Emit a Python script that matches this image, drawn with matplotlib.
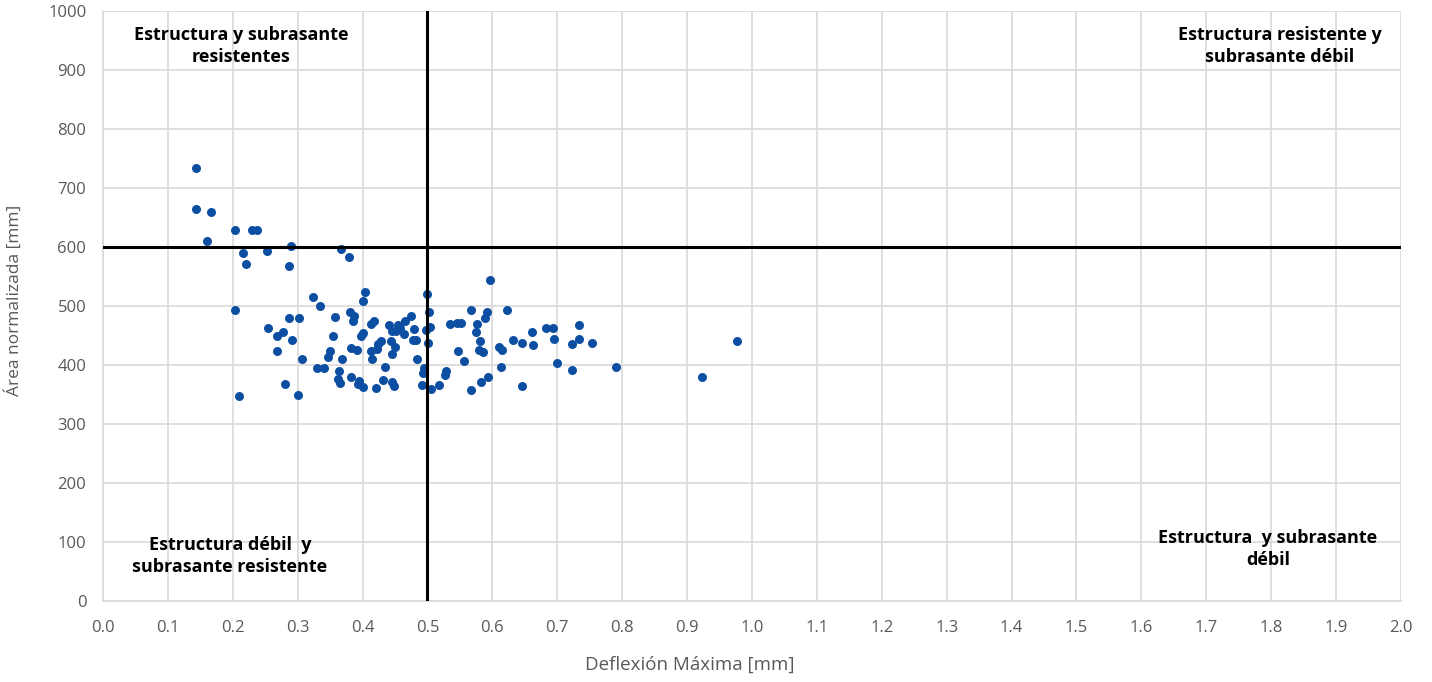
import matplotlib
matplotlib.use("Agg")
import matplotlib.pyplot as plt
import numpy as np

# Data
deflexion = [
    0.144, 0.144, 0.167, 0.160, 0.203, 0.230, 0.237, 0.216, 0.221, 0.252,
    0.289, 0.286, 0.367, 0.379, 0.203, 0.210, 0.301, 0.323, 0.334, 0.287,
    0.302, 0.357, 0.381, 0.255, 0.268, 0.278, 0.291, 0.268, 0.307, 0.354,
    0.350, 0.346, 0.368, 0.330, 0.341, 0.364, 0.362, 0.365, 0.280, 0.382,
    0.404, 0.401, 0.500, 0.502, 0.387, 0.385, 0.382, 0.391, 0.394, 0.393,
    0.401, 0.421, 0.432, 0.435, 0.446, 0.448, 0.413, 0.418, 0.397, 0.401,
    0.413, 0.414, 0.422, 0.424, 0.429, 0.441, 0.444, 0.446, 0.451, 0.454,
    0.450, 0.446, 0.458, 0.464, 0.466, 0.474, 0.479, 0.477, 0.482, 0.484,
    0.494, 0.493, 0.492, 0.505, 0.517, 0.498, 0.504, 0.501, 0.527, 0.528,
    0.534, 0.546, 0.552, 0.596, 0.567, 0.622, 0.592, 0.589, 0.576, 0.575,
    0.581, 0.579, 0.585, 0.547, 0.557, 0.610, 0.615, 0.631, 0.645, 0.661,
    0.663, 0.682, 0.693, 0.695, 0.734, 0.733, 0.723, 0.754, 0.700, 0.722,
    0.614, 0.645, 0.593, 0.583, 0.567, 0.791, 0.923, 0.977,
]
area = [
    734, 664, 660, 611, 628, 629, 629, 590, 571, 593,
    602, 567, 596, 583, 494, 347, 349, 515, 500, 480,
    480, 482, 490, 462, 450, 456, 442, 423, 411, 450,
    424, 413, 410, 395, 395, 389, 376, 370, 367, 380,
    524, 509, 520, 490, 483, 475, 429, 425, 373, 367,
    362, 361, 375, 397, 371, 365, 469, 475, 450, 454,
    423, 411, 427, 436, 441, 467, 441, 458, 458, 468,
    431, 418, 462, 453, 475, 483, 461, 442, 442, 410,
    395, 387, 366, 359, 366, 460, 464, 437, 383, 389,
    470, 471, 471, 544, 493, 493, 489, 479, 469, 456,
    441, 426, 422, 424, 407, 431, 426, 442, 437, 456,
    434, 462, 462, 444, 467, 444, 436, 437, 403, 392,
    396, 364, 380, 371, 358, 396, 379, 441,
]

limite_deflexion = 0.5
limite_area = 600

x_ticks = [round(0.1 * i, 1) for i in range(21)]
y_ticks = list(range(0, 1001, 100))

cuadrantes = [
    "Estructura y subrasante\nresistentes",
    "Estructura resistente y\nsubrasante débil",
    "Estructura débil  y\nsubrasante resistente",
    "Estructura  y subrasante\ndébil",
]
cuadrante_pos = [(0.2126, 940), (1.8136, 940), (0.1957, 76), (1.795, 88)]

plt.rcParams['font.family'] = ['Open Sans', 'DejaVu Sans']

fig = plt.figure(figsize=(14.32, 6.82), dpi=100)
ax = fig.add_axes([103 / 1432, 81 / 682, 1298 / 1432, 590 / 682])

ax.scatter(deflexion, area, s=42, color='#0B4EA2', zorder=3, linewidths=0)

ax.axvline(limite_deflexion, color='black', lw=2.2, zorder=4)
ax.axhline(limite_area, color='black', lw=2.2, zorder=4)

ax.set_xlim(0, 2.0)
ax.set_ylim(0, 1000)
ax.set_xticks(x_ticks)
ax.set_xticklabels([f"{v:.1f}" for v in x_ticks])
ax.set_yticks(y_ticks)
ax.grid(True, color='#D9D9D9', lw=1.2, zorder=0)
ax.set_axisbelow(True)
for s in ['top', 'right']:
    ax.spines[s].set_visible(False)
for s in ['left', 'bottom']:
    ax.spines[s].set_color('#D9D9D9')
    ax.spines[s].set_linewidth(1.2)
ax.tick_params(length=0, labelsize=12, colors='#595959')
ax.tick_params(axis='x', pad=14)
ax.tick_params(axis='y', pad=12)

ax.set_xlabel("Deflexión Máxima [mm]", fontsize=13.5, color='#595959')
ax.xaxis.set_label_coords(0.452, -0.093)
ax.set_ylabel("Área normalizada [mm]", fontsize=12.5, color='#595959')
ax.yaxis.set_label_coords(-0.062, 0.51)

for txt, (x, y) in zip(cuadrantes, cuadrante_pos):
    ax.text(x, y, txt, ha='center', va='center', fontsize=13, fontweight='bold',
            color='black', linespacing=1.3, zorder=5)

fig.savefig("out.png", dpi=100)
